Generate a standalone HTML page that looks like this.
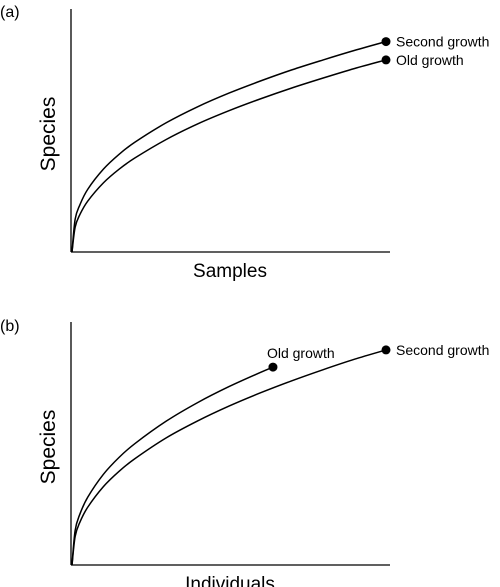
<!DOCTYPE html>
<html><head><meta charset="utf-8"><style>
body{margin:0;background:#fff}
svg{display:block;font-family:"Liberation Sans",Arial,sans-serif}
</style></head><body>
<svg id="c" width="500" height="587" viewBox="0 0 500 587">
<text x="0" y="17" font-size="16">(a)</text>
<text x="0" y="331" font-size="16">(b)</text>
<g id="pa"></g>
<g id="pb"></g>
</svg>
<script>
const xs = [0, 0.1, 0.25, 0.5, 1, 1.5, 2, 3, 4, 5, 6, 7, 8, 9, 10];
const aSecond = [0, 1.41, 2.03, 2.70, 3.57, 4.21, 4.73, 5.57, 6.26, 6.85, 7.37, 7.85, 8.28, 8.69, 9.07];
const aOld = [0, 1.07, 1.61, 2.19, 2.98, 3.57, 4.05, 4.85, 5.52, 6.09, 6.60, 7.07, 7.50, 7.91, 8.28];
const bOldX = [0, 0.1, 0.25, 0.5, 1, 1.5, 2, 3, 4, 5, 6, 6.4];
const bOld = [0, 1.49, 2.19, 2.92, 3.91, 4.64, 5.23, 6.20, 7.00, 7.69, 8.30, 8.53];
const bSecond = [0, 1.23, 1.84, 2.49, 3.38, 4.04, 4.58, 5.48, 6.21, 6.85, 7.42, 7.94, 8.42, 8.87, 9.27];
const NS = "http://www.w3.org/2000/svg";
function mk(t, a, p){const e=document.createElementNS(NS,t);for(const k in a)e.setAttribute(k,a[k]);p.appendChild(e);return e;}
function path(px){let d="M"+px[0][0]+","+px[0][1];
  for(let i=0;i<px.length-1;i++){const p0=px[Math.max(0,i-1)],p1=px[i],p2=px[i+1],p3=px[Math.min(px.length-1,i+2)];
    const c1=[p1[0]+(p2[0]-p0[0])/6,p1[1]+(p2[1]-p0[1])/6],c2=[p2[0]-(p3[0]-p1[0])/6,p2[1]-(p3[1]-p1[1])/6];
    d+=" C"+c1[0]+","+c1[1]+" "+c2[0]+","+c2[1]+" "+p2[0]+","+p2[1];}
  return d;}
function panel(g, y0, xlab, series){
  const sx=v=>72+v*31.4, sy=v=>y0-v*23.2;
  const ya=mk("line",{x1:71,y1:y0-243,x2:71,y2:y0,stroke:"#000","stroke-width":1.3},g);
  
  
  const xa=mk("line",{x1:71,y1:y0,x2:390,y2:y0,stroke:"#000","stroke-width":1.3},g);
  
  
  const yt=mk("text",{x:0,y:0,"font-size":21,"text-anchor":"middle",transform:"translate(55,"+(y0-118)+") rotate(-90)"},g);
  yt.textContent="Species";
  
  
  const xt=mk("text",{x:230,y:y0+25,"font-size":19,"text-anchor":"middle"},g);
  xt.textContent=xlab;
  
  
  series.forEach(s=>{
    const pts=s.x.map((v,i)=>[sx(v),sy(s.y[i])]);
    const l=mk("path",{d:path(pts),fill:"none",stroke:"#000","stroke-width":1.5},g);
    
    
    const e=pts[pts.length-1];
    const c=mk("circle",{cx:e[0],cy:e[1],r:4.5,fill:"#000"},g);
    
    
    const t=mk("text",{x:e[0]+s.dx,y:e[1]+s.dy,"font-size":14},g);
    t.textContent=s.label;
    
    
  });
}
panel(document.getElementById("pa"),252,"Samples",[
  {x:xs,y:aSecond,name:"second-growth",label:"Second growth",dx:10,dy:5},
  {x:xs,y:aOld,name:"old-growth",label:"Old growth",dx:10,dy:5}]);
panel(document.getElementById("pb"),565,"Individuals",[
  {x:bOldX,y:bOld,name:"old-growth",label:"Old growth",dx:-6,dy:-9},
  {x:xs,y:bSecond,name:"second-growth",label:"Second growth",dx:10,dy:5}]);
</script>
</body></html>
